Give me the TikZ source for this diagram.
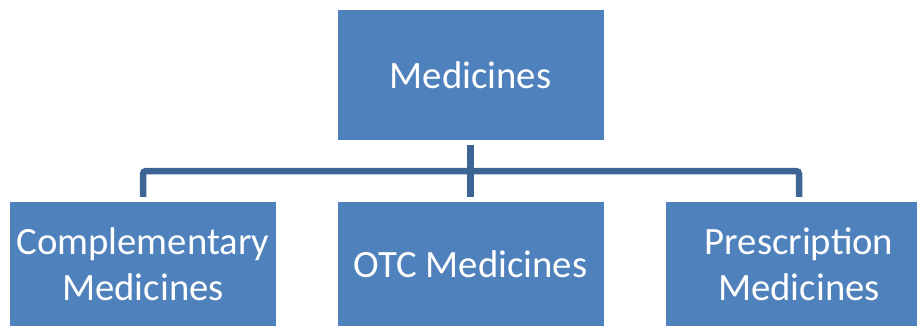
\documentclass[tikz,border=0pt]{standalone}
\usepackage{fontspec}
\setmainfont{Carlito}
\usepackage{tikz}
\usetikzlibrary{positioning}
\definecolor{boxblue}{HTML}{4F81BD}
\definecolor{linkblue}{HTML}{3C6494}
\tikzset{
        medbox/.style={fill=boxblue,draw=none,text=white,inner sep=0pt,
            minimum width=266bp,align=center,
            font=\fontsize{38.7bp}{46bp}\selectfont},
        branch/.style={draw=linkblue,line width=6.5bp,rounded corners=3bp,
            shorten >=5bp,shorten <=5bp}
    }

\begin{document}
\begin{tikzpicture}[x=1bp,y=1bp]
                \useasboundingbox (0,0) rectangle (917,-326);
                \clip (0,0) rectangle (917,-326);
                \node [medbox,minimum height=130bp] (med) at (470.5,-75) {Medicines};
                \node [medbox,minimum height=124bp] (comp) at (143,-264) {Complementary\\Medicines};
                \node [medbox,minimum height=124bp] (otc) at (470.5,-264) {OTC Medicines};
                \node [medbox,minimum height=124bp] (presc) at (799,-264) {Prescription\\Medicines};
                \coordinate (hub) at (470.5,-171);
                \draw [branch] (med) -- (otc);
                \draw [branch,shorten <=0pt] (hub) -| (comp);
                \draw [branch,shorten <=0pt] (hub) -| (presc);
            \end{tikzpicture}
\end{document}
